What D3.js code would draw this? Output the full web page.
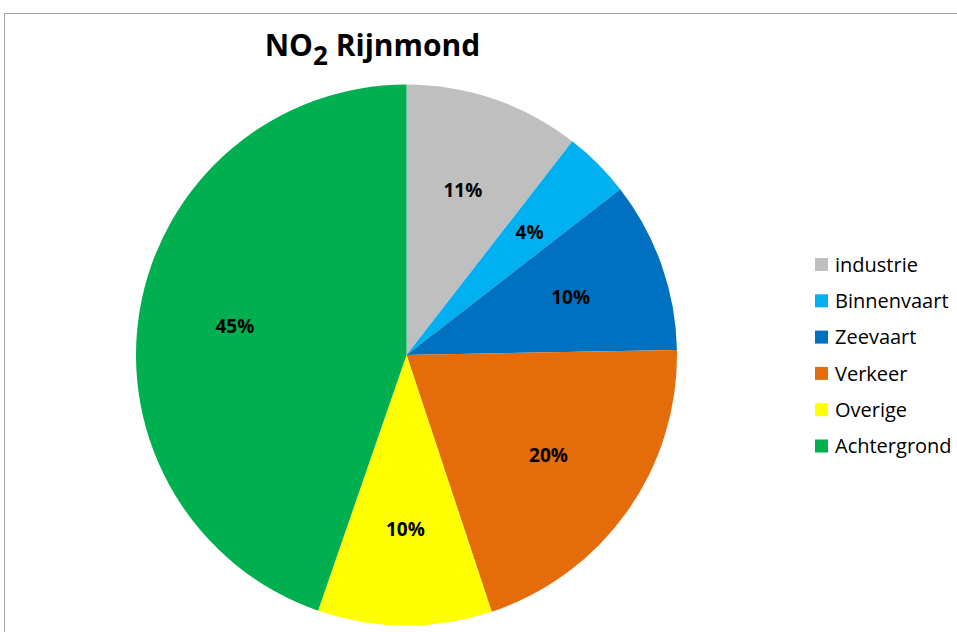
<!DOCTYPE html>
<html><head><meta charset="utf-8">
<script src="https://cdn.jsdelivr.net/npm/d3@7"></script>
<style>body{margin:0;background:#fff}svg{display:block}</style>
</head><body>
<svg id="c" width="957" height="632"></svg>
<script>
const categories = ["industrie","Binnenvaart","Zeevaart","Verkeer","Overige","Achtergrond"];
const values = [10.5, 4.0, 10.2, 20.2, 10.4, 44.7];
const labels = ["11%","4%","10%","20%","10%","45%"];
const colors = ["#bfbfbf","#00b0f0","#0070c0","#e46c0a","#ffff00","#00b050"];

const svg = d3.select("#c");
const font = "'Open Sans', sans-serif";
svg.append("rect").attr("x",4.5).attr("y",13.5).attr("width",1000).attr("height",700)
  .attr("fill","#fff").attr("stroke","#a6a6a6").attr("stroke-width",1);

const cx = 406.5, cy = 355, r = 270.5;
const color = d3.scaleOrdinal().domain(categories).range(colors);
const pie = d3.pie().sort(null).value(d => d.v);
const data = categories.map((c,i)=>({c, v: values[i], l: labels[i]}));
const arcs = pie(data);
const arc = d3.arc().innerRadius(0).outerRadius(r);
const labelArc = d3.arc().innerRadius(174).outerRadius(174);
const g = svg.append("g").attr("transform",`translate(${cx},${cy})`);
g.selectAll("path").data(arcs).join("path").attr("d",arc).attr("fill",d=>color(d.data.c));
g.selectAll("text").data(arcs).join("text")
  .attr("transform",d=>`translate(${labelArc.centroid(d)})`)
  .attr("text-anchor","middle").attr("dy","0.36em")
  .attr("font-family",font).attr("font-weight","bold").attr("font-size",19).attr("fill","#000")
  .text(d=>d.data.l);

const t = svg.append("text").attr("x",372.5).attr("y",56).attr("text-anchor","middle")
  .attr("font-family",font).attr("font-weight","bold").attr("font-size",30).attr("fill","#000");
t.append("tspan").text("NO");
t.append("tspan").attr("font-size",26).attr("dy",9).text("2");
t.append("tspan").attr("dy",-9).text(" Rijnmond");

const ly = d3.scalePoint().domain(categories).range([264.5,446]);
const lg = svg.append("g");
const items = lg.selectAll("g").data(categories).join("g").attr("transform",d=>`translate(815,${ly(d)})`);
items.append("rect").attr("x",0).attr("y",-6.5).attr("width",13).attr("height",13).attr("fill",d=>color(d));
items.append("text").attr("x",20).attr("dy","0.36em").attr("font-family",font).attr("font-size",20).attr("fill","#000").text(d=>d);
</script>
</body></html>
